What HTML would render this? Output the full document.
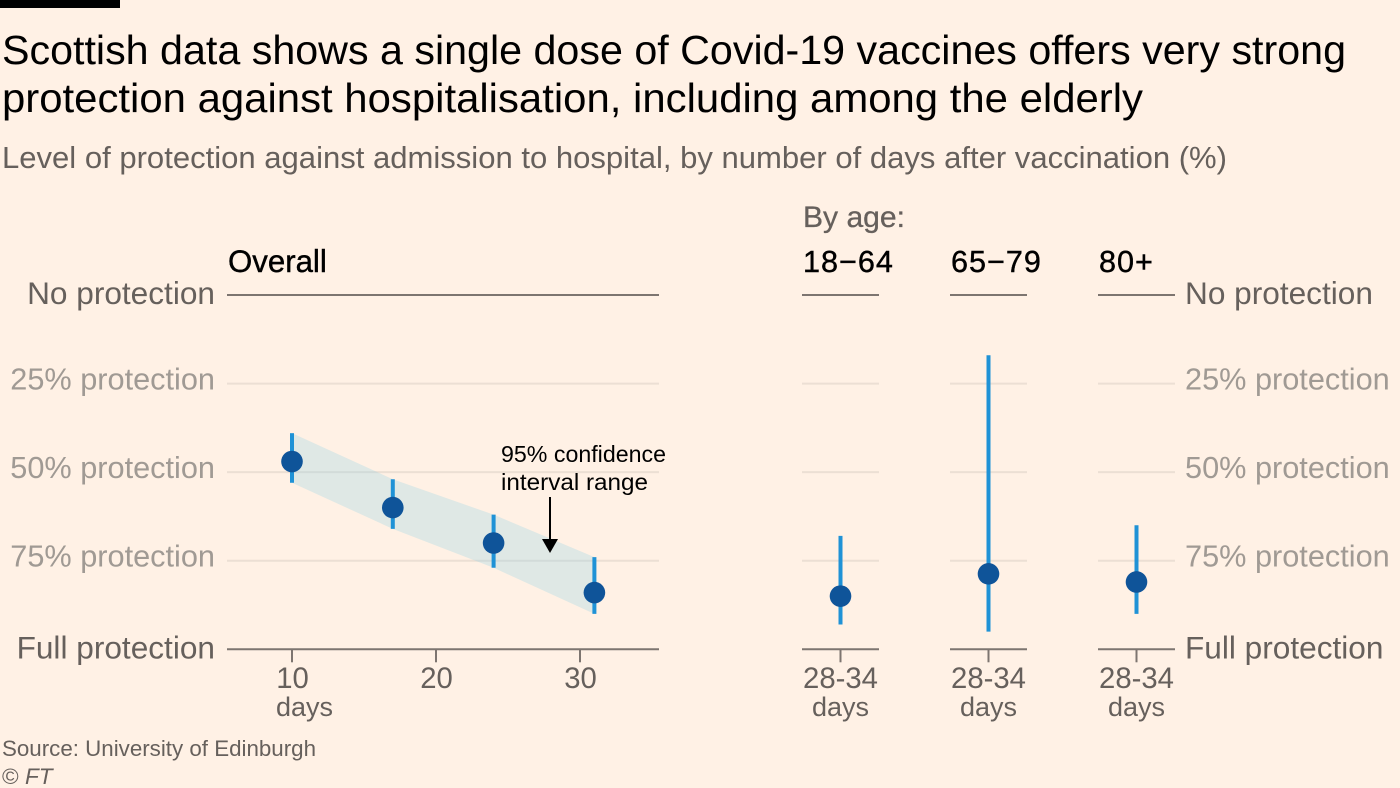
<!DOCTYPE html>
<html lang="en">
<head>
<meta charset="utf-8">
<title>Scottish data: single-dose vaccine protection</title>
<style>
html,body{margin:0;padding:0;background:#fff1e5;}
svg{display:block;font-family:"Liberation Sans",Arial,sans-serif;}
</style>
</head>
<body>
<svg id="chart" xmlns="http://www.w3.org/2000/svg" width="1400" height="788" viewBox="0 0 1400 788">
  <rect x="0" y="0" width="1400" height="788" fill="#fff1e5"/>
  <rect x="0" y="0" width="120" height="8" fill="#000"/>
  <text x="2" y="64" font-size="41" fill="#000" textLength="1344" lengthAdjust="spacingAndGlyphs">Scottish data shows a single dose of Covid-19 vaccines offers very strong</text>
  <text x="2" y="112" font-size="41" fill="#000" textLength="1141" lengthAdjust="spacingAndGlyphs">protection against hospitalisation, including among the elderly</text>
  <text x="2" y="168" font-size="30.6" fill="#66605c" textLength="1225" lengthAdjust="spacingAndGlyphs">Level of protection against admission to hospital, by number of days after vaccination (%)</text>
  <text x="803" y="227" font-size="30" fill="#66605c" stroke="#66605c" stroke-width="0.3" textLength="102" lengthAdjust="spacingAndGlyphs">By age:</text>
  <g id="plot"></g>
  <text x="501" y="462" font-size="23.5" fill="#000" textLength="165" lengthAdjust="spacingAndGlyphs">95% confidence</text>
  <text x="501" y="490" font-size="23.5" fill="#000" textLength="147" lengthAdjust="spacingAndGlyphs">interval range</text>
  <line x1="550" y1="497" x2="550" y2="541" stroke="#000" stroke-width="2"/>
  <polygon points="542,539 558,539 550,553" fill="#000"/>
  <text x="2" y="756" font-size="22.6" fill="#66605c" textLength="314" lengthAdjust="spacingAndGlyphs">Source: University of Edinburgh</text>
  <text x="2" y="784" font-size="22.6" fill="#66605c">© <tspan font-style="italic">FT</tspan></text>
</svg>
<script>
// Chart data (percent protection)
const overallDays = [10, 17, 24, 31];
const overallCentral = [47, 60, 70, 84];
const overallLow = [39, 52, 62, 74];
const overallHigh = [53, 66, 77, 90];

const ageGroups = ['18−64', '65−79', '80+'];
const ageCentral = [85, 78.7, 81];
const ageLow = [68, 17, 65];
const ageHigh = [93, 95, 90];

const yTickValues = [0, 25, 50, 75, 100];
const yTickLabels = ['No protection', '25% protection', '50% protection', '75% protection', 'Full protection'];
const xTickValues = [10, 20, 30];

const NS = 'http://www.w3.org/2000/svg';
const plot = document.getElementById('plot');

function yScale(v) { return 295 + v * 3.543; }
function xScale(d) { return 292 + (d - 10) * 14.4; }
function panelLeft(i) { return 802 + i * 148; }
function panelMid(i) { return panelLeft(i) + 38.5; }
function isEnd(v) { return v === 0 || v === 100; }
function labelY(v) { return yScale(v) + (isEnd(v) ? 9 : 6); }
function labelSize(v) { return isEnd(v) ? 31.6 : 30.7; }

function make(tag, props) {
  const el = document.createElementNS(NS, tag);
  for (const k in props) el.setAttribute(k, props[k]);
  plot.appendChild(el);
  return el;
}
function makeLine(x1, y1, x2, y2, stroke, width) {
  return make('line', { x1: x1, y1: y1, x2: x2, y2: y2, stroke: stroke, 'stroke-width': width });
}
function makeText(x, y, str, size, fill, anchor) {
  const t = make('text', { x: x, y: y, 'font-size': size, fill: fill, 'text-anchor': anchor || 'start' });
  t.textContent = str;
  return t;
}
function gridColor(v) { return isEnd(v) ? '#7d7570' : '#ecdfd4'; }
function tickFill(v) { return isEnd(v) ? '#66605c' : '#a09a94'; }

// gridlines and y labels
yTickValues.forEach(function (v, i) {
  const y = yScale(v);
  const g1 = makeLine(227, y, 659, y, gridColor(v), 2);
  
  
  ageGroups.forEach(function (_, p) {
    const g2 = makeLine(panelLeft(p), y, panelLeft(p) + 77, y, gridColor(v), 2);
    
    
  });
  const l1 = makeText(215, labelY(v), yTickLabels[i], labelSize(v), tickFill(v), 'end');
  
  
  const l2 = makeText(1185, labelY(v), yTickLabels[i], labelSize(v), tickFill(v), 'start');
  
  
});

// x ticks overall
xTickValues.forEach(function (d) {
  const x = xScale(d);
  const tick = makeLine(x, yScale(100), x, yScale(100) + 13, '#7d7570', 2);
  
  
  const lab = makeText(x + 0.5, 688, String(d), 29.3, '#66605c', 'middle');
  
  
});
const daysLabel = makeText(276, 716, 'days', 27, '#66605c', 'start');



const overallHead = makeText(228, 272, 'Overall', 31.2, '#000', 'start');
overallHead.setAttribute('stroke', '#000');
overallHead.setAttribute('stroke-width', '0.4');



// confidence band
const upperEdge = overallDays.map(function (d, i) { return xScale(d) + ',' + yScale(overallLow[i]); });
const lowerEdge = overallDays.map(function (d, i) { return xScale(d) + ',' + yScale(overallHigh[i]); }).reverse();
const band = make('polygon', { points: upperEdge.concat(lowerEdge).join(' '), fill: '#94d3e5', 'fill-opacity': 0.3 });



// overall series
overallDays.forEach(function (d, i) {
  const x = xScale(d);
  const bar = makeLine(x, yScale(overallLow[i]), x, yScale(overallHigh[i]), '#1f92d6', 4);
  
  
  const dot = make('circle', { cx: x, cy: yScale(overallCentral[i]), r: 10.8, fill: '#0f5499' });
  
  
});

// age panels
ageGroups.forEach(function (name, i) {
  const x = panelMid(i);
  const head = makeText(panelLeft(i) + 1, 272, name, 30.6, '#000', 'start');
  head.setAttribute('letter-spacing', '1');
  head.setAttribute('stroke', '#000');
  head.setAttribute('stroke-width', '0.4');
  
  
  const tick = makeLine(x, yScale(100), x, yScale(100) + 13, '#7d7570', 2);
  
  
  const l1 = makeText(x, 688, '28-34', 29.3, '#66605c', 'middle');
  
  
  const l2 = makeText(x, 716, 'days', 27, '#66605c', 'middle');
  
  
  const bar = makeLine(x, yScale(ageLow[i]), x, yScale(ageHigh[i]), '#1f92d6', 4);
  
  
  const dot = make('circle', { cx: x, cy: yScale(ageCentral[i]), r: 10.8, fill: '#0f5499' });
  
  
});
</script>
</body>
</html>
